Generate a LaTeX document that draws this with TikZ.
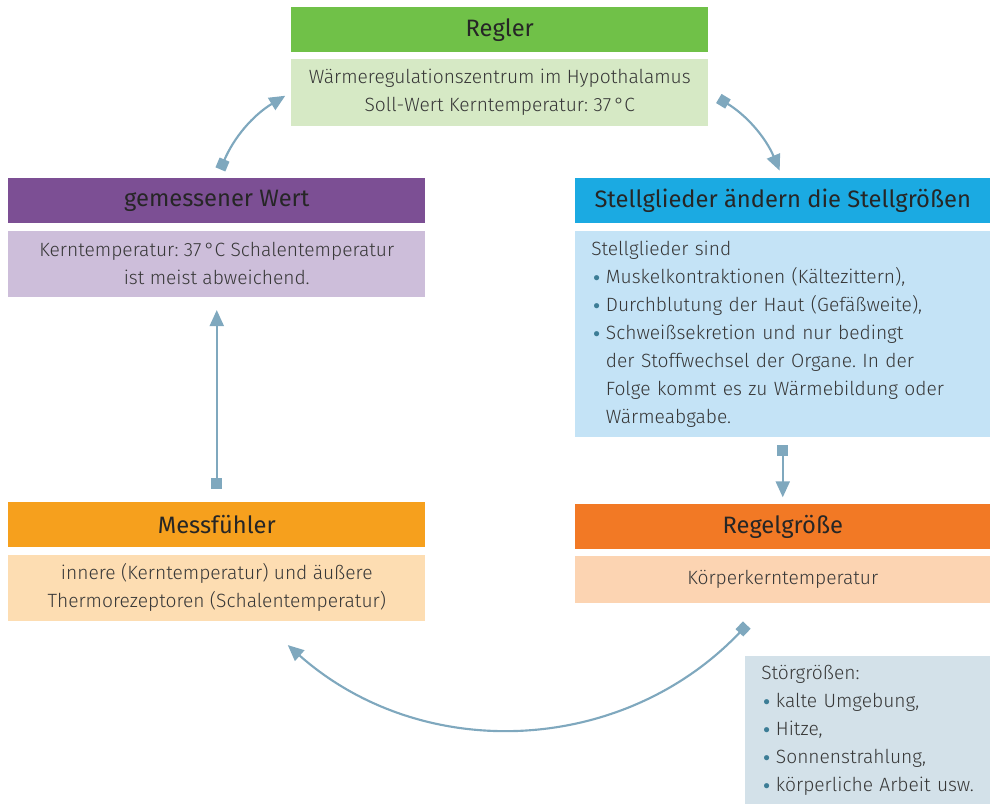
\documentclass[tikz,border=0pt]{standalone}
\usepackage{fontspec}
\setmainfont{Fira Sans Light}
\newfontfamily\headfont{Fira Sans}
\usetikzlibrary{positioning,calc}
\usetikzlibrary{arrows.meta}
\definecolor{RegGreen}{RGB}{112,193,72}
\definecolor{RegGreenL}{RGB}{214,233,197}
\definecolor{MesPurple}{RGB}{124,79,148}
\definecolor{MesPurpleL}{RGB}{205,190,218}
\definecolor{StCyan}{RGB}{27,170,226}
\definecolor{StCyanL}{RGB}{196,227,246}
\definecolor{FuOrange}{RGB}{246,160,29}
\definecolor{FuOrangeL}{RGB}{253,221,178}
\definecolor{GrRed}{RGB}{242,121,37}
\definecolor{GrRedL}{RGB}{252,212,178}
\definecolor{StoerGray}{RGB}{211,225,233}
\definecolor{LinkBlue}{RGB}{127,168,190}
\definecolor{DotTeal}{RGB}{60,125,150}
\definecolor{TextDark}{RGB}{55,55,55}
\newcommand{\bul}{\makebox[11pt][l]{\hspace{1.5pt}\textcolor{DotTeal}{\raisebox{1.4pt}{\fontsize{10}{10}\selectfont$\bullet$}}}}
\newcommand{\cont}{\hspace*{11pt}}
\tikzset{
	head/.style={fill=#1,anchor=north west,inner sep=0pt,minimum height=33.75pt,
		font=\headfont\fontsize{17.8}{20}\selectfont,text=black!85},
	body/.style={fill=#1,inner sep=0pt,minimum height=49.5pt,
		font=\fontsize{14.4}{21}\selectfont,text=TextDark,align=center},
	link/.style={draw=LinkBlue,line width=1.6pt,
		{Square[length=8pt,width=8pt]}-{Triangle[length=12pt,width=10.5pt]}},
}
\begin{document}
\frenchspacing
\begin{tikzpicture}[x=0.75pt,y={(0pt,-0.75pt)}]
	\useasboundingbox (0,0) rectangle (990,804);
	% boxes
	\node[head=RegGreen,minimum width=312.75pt] (regler) at (291,7) {Regler};
	\node[body=RegGreenL,minimum width=312.75pt,minimum height=50.25pt,below=4.5pt of regler] (reglerbody)
		{Wärmeregulationszentrum im Hypothalamus\\Soll-Wert Kerntemperatur: 37\,°C};
	\node[head=MesPurple,minimum width=312.75pt] (wert) at (8,178) {gemessener Wert};
	\node[body=MesPurpleL,minimum width=312.75pt,below=5.25pt of wert] (wertbody)
		{Kerntemperatur: 37\,°C Schalentemperatur\\ist meist abweichend.};
	\node[head=StCyan,minimum width=311.25pt] (stell) at (575,178) {Stellglieder ändern die Stellgrößen};
	\node[body=StCyanL,minimum width=311.25pt,minimum height=154.5pt,align=left,
		text width=287.25pt,inner xsep=12pt,below=5.25pt of stell] (stellbody)
		{Stellglieder sind\\
		\bul Muskelkontraktionen (Kältezittern),\\
		\bul Durchblutung der Haut (Gefäßweite),\\
		\bul Schweißsekretion und nur bedingt\\
		\cont der Stoffwechsel der Organe. In der\\
		\cont Folge kommt es zu Wärmebildung oder\\
		\cont Wärmeabgabe.};
	\node[head=FuOrange,minimum width=312.75pt] (fuehler) at (8,502) {Messfühler};
	\node[body=FuOrangeL,minimum width=312.75pt,below=5.25pt of fuehler] (fuehlerbody)
		{innere (Kerntemperatur) und äußere\\Thermorezeptoren (Schalentemperatur)};
	\node[head=GrRed,minimum width=311.25pt] (groesse) at (575,504) {Regelgröße};
	\node[body=GrRedL,minimum width=311.25pt,minimum height=35.25pt,below=4.5pt of groesse] (groessebody)
		{Körperkerntemperatur};
	\node[body=StoerGray,anchor=north west,minimum width=183.75pt,minimum height=111pt,
		align=left,text width=171.75pt,inner xsep=12pt] (stoer) at (745,656)
		{Störgrößen:\\
		\bul kalte Umgebung,\\
		\bul Hitze,\\
		\bul Sonnenstrahlung,\\
		\bul körperliche Arbeit usw.};
	% connectors
	\coordinate (loopstart) at ($(groessebody.south)+(-36,22)$);
	\coordinate (loopend) at ($(fuehlerbody.south)+(71,24)$);
	\draw[link,shorten <=7pt,shorten >=5pt] (wert.north) to[bend left=18] (reglerbody.west);
	\draw[link,shorten <=9pt,shorten >=6pt] (reglerbody.east) to[bend left=18] (stell.north);
	\draw[link,shorten <=9.75pt,shorten >=9.75pt] (fuehler.north) -- (wertbody.south);
	\draw[link,shorten <=6pt,shorten >=5pt] (stellbody.south) -- (groesse.north);
	\draw[link] (loopstart) to[bend left=44] (loopend);
\end{tikzpicture}
\end{document}
